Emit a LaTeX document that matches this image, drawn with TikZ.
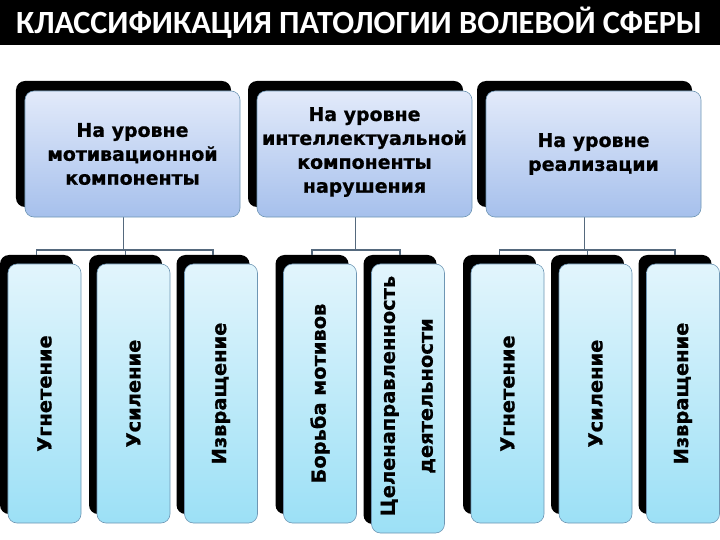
\documentclass[tikz,border=0pt]{standalone}
\usepackage{fontspec}
\newfontfamily\boxfont{DejaVu Sans}[BoldFeatures={FakeBold=0.8}]
\newfontfamily\titlefont{Carlito}
\definecolor{topA}{RGB}{226,234,250}
\definecolor{topB}{RGB}{166,192,236}
\definecolor{botA}{RGB}{226,245,252}
\definecolor{botB}{RGB}{156,224,246}
\definecolor{edgec}{RGB}{110,150,180}
\definecolor{conn}{RGB}{85,105,125}
\begin{document}
\begin{tikzpicture}[x=1bp,y=-1bp,
  shadowbox/.style={fill=black, rounded corners=9bp, inner sep=0pt, outer sep=0pt},
  topfront/.style={draw=edgec, line width=0.6bp, top color=topA, bottom color=topB, rounded corners=9bp, inner sep=0pt, outer sep=0pt, minimum width=215bp, minimum height=126bp},
  botfront/.style={draw=edgec, line width=0.6bp, top color=botA, bottom color=botB, rounded corners=9bp, inner sep=0pt, outer sep=0pt, minimum width=73bp, minimum height=259bp},
  toptext/.style={align=center, font=\boxfont\bfseries\fontsize{19}{24}\selectfont, text=black},
  bottext/.style={rotate=90, align=center, font=\boxfont\bfseries\fontsize{19.5}{38}\selectfont, text=black},
  conline/.style={draw=conn, line width=1.3bp}
]
\useasboundingbox (0,0) rectangle (720,540);
\fill[white] (0,0) rectangle (720,540);
% title
\fill[black] (0,0) rectangle (720,45);
\node[text=white, font=\titlefont\bfseries\fontsize{32.5}{32.5}\selectfont] (title) at (359,23) {КЛАССИФИКАЦИЯ ПАТОЛОГИИ ВОЛЕВОЙ СФЕРЫ};

% top shadows
\node[shadowbox, minimum width=215bp, minimum height=126bp] (s1) at (123.5,144) {};
\node[shadowbox, minimum width=215bp, minimum height=126bp] (s2) at (355.5,144) {};
\node[shadowbox, minimum width=215bp, minimum height=126bp] (s3) at (584.5,144) {};
% bottom shadows
\foreach \n/\x in {1/36.5,2/125.5,3/213,4/312,6/499.5,7/587.5,8/675}{
  \node[shadowbox, minimum width=73bp, minimum height=259bp] (bs\n) at (\x,384.5) {};
}
\node[shadowbox, minimum width=73bp, minimum height=269bp] (bs5) at (400,389.5) {};

% connectors
\coordinate (j1) at (123.5,250);
\coordinate (j2) at (355.5,250);
\coordinate (j3) at (584.5,250);
\draw[conline] (s1.center |- 0,217) -- (j1);
\draw[conline] (s2.center |- 0,217) -- (j2);
\draw[conline] (s3.center |- 0,217) -- (j3);
\draw[conline] (bs1.north) -- (bs1.north |- j1) -- (bs3.north |- j1) -- (bs3.north);
\draw[conline] (bs2.north) -- (bs2.north |- j1);
\draw[conline] (bs4.north) -- (bs4.north |- j2) -- (bs5.north |- j2) -- (bs5.north);
\draw[conline] (bs6.north) -- (bs6.north |- j3) -- (bs8.north |- j3) -- (bs8.north);
\draw[conline] (bs7.north) -- (bs7.north |- j3);

% top fronts
\node[topfront] (t1) at (132.5,154) {};
\node[topfront] (t2) at (364.5,154) {};
\node[topfront] (t3) at (593.5,154) {};
\node[toptext] (t1x) at (t1.center) {На уровне\\мотивационной\\компоненты};
\node[toptext] (t2x) at (364.5,152) {На уровне\\интеллектуальной\\компоненты\\нарушения};
\node[toptext] (t3x) at (t3.center) {На уровне\\реализации};

% bottom fronts
\foreach \n/\x in {1/44.5,2/133.5,3/221,4/320,6/507.5,7/595.5,8/683}{
  \node[botfront] (b\n) at (\x,393.5) {};
}
\node[botfront, minimum height=269bp] (b5) at (408,398.5) {};

\node[bottext] (b1x) at (b1.center) {Угнетение};
\node[bottext] (b2x) at (b2.center) {Усиление};
\node[bottext] (b3x) at (b3.center) {Извращение};
\node[bottext] (b4x) at (b4.center) {Борьба мотивов};
\node[bottext] (b5x) at (408,396) {Целенаправленность\\деятельности};
\node[bottext] (b6x) at (b6.center) {Угнетение};
\node[bottext] (b7x) at (b7.center) {Усиление};
\node[bottext] (b8x) at (b8.center) {Извращение};
\end{tikzpicture}
\end{document}
